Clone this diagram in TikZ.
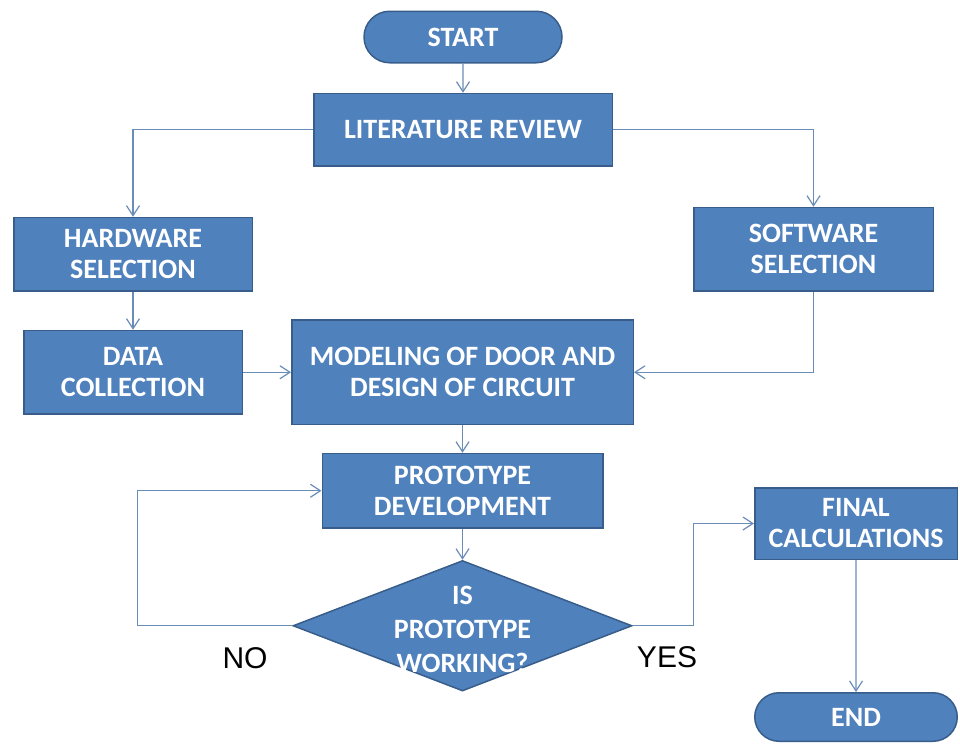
\documentclass[tikz,border=0pt]{standalone}
\usepackage{fontspec}
\setmainfont{Carlito}
\newfontfamily\arialfont{Liberation Sans}
\usepackage{xcolor}
\definecolor{boxblue}{HTML}{4F81BD}
\definecolor{boxedge}{HTML}{385D8A}
\definecolor{linkblue}{HTML}{6A8CB8}
\usetikzlibrary{arrows.meta,positioning,shapes.geometric,shapes.misc}
\tikzset{
  fb/.style={draw=boxedge, fill=boxblue, line width=1.5pt, text=white, align=center,
             font=\fontsize{28}{31}\selectfont\bfseries, inner sep=0pt},
  fbox/.style={fb, rectangle},
  fterm/.style={fb, rounded rectangle},
  fdec/.style={fb, diamond},
  dectext/.style={text=white, align=center, font=\fontsize{28}{34}\selectfont\bfseries},
  ar/.style={-{Straight Barb[length=10pt,width=13pt]}, draw=linkblue, line width=1.2pt},
  yn/.style={font=\arialfont\fontsize{30}{32}\selectfont, text=black},
}
\begin{document}
\begin{tikzpicture}[x=1pt,y=-1pt]
  \useasboundingbox (0,0) rectangle (960,744);
  \node[fterm, minimum width=198pt, minimum height=51.5pt] (start) at (463,37) {START};
  \node[fbox, minimum width=298.5pt, minimum height=72.5pt, below=29.25pt of start] (lit) {LITERATURE REVIEW};
  \node[fbox, minimum width=238.5pt, minimum height=73.5pt, below left=50pt and 60pt of lit] (hw) {HARDWARE\\SELECTION};
  \node[fbox, minimum width=239.5pt, minimum height=83.5pt, below right=40pt and 80pt of lit] (sw) {SOFTWARE\\SELECTION};
  \node[fbox, minimum width=218.5pt, minimum height=83.5pt, below=38pt of hw] (data) {DATA\\COLLECTION};
  \node[fbox, minimum width=341.5pt, minimum height=104.5pt, right=48pt of data] (model) {MODELING OF DOOR AND\\DESIGN OF CIRCUIT};
  \node[fbox, minimum width=280.5pt, minimum height=74.5pt, below=27.5pt of model] (proto) {PROTOTYPE\\DEVELOPMENT};
  \node[fdec, minimum width=339pt, minimum height=130.5pt, below=31pt of proto,
        label={[dectext, yshift=-4pt]center:IS\\PROTOTYPE\\WORKING?}] (dec) {};
  \node[fbox, minimum width=202.5pt, minimum height=71.5pt] (final) at (856,523.5) {FINAL\\CALCULATIONS};
  \node[fterm, minimum width=202.5pt, minimum height=48.5pt, below=132pt of final] (end) {END};
  \node[yn] (no) at (245,658) {NO};
  \node[yn] (yes) at (667,657) {YES};

  \draw[ar] (start) -- (lit);
  \draw[ar] (lit.west) -| (hw.north);
  \draw[ar] (lit.east) -| (sw.north);
  \draw[ar] (hw) -- (data);
  \draw[ar] (data) -- (model);
  \draw[ar] (sw.south) |- (model.east);
  \draw[ar] (model) -- (proto);
  \draw[ar] (proto) -- (dec);
  % loop back when it fails
  \draw[ar] (dec.west) -- ++(-155,0) |- (proto.west);
  \draw[ar] (dec.east) -- ++(61,0) |- (final.west);
  \draw[ar] (final) -- (end);
\end{tikzpicture}
\end{document}
